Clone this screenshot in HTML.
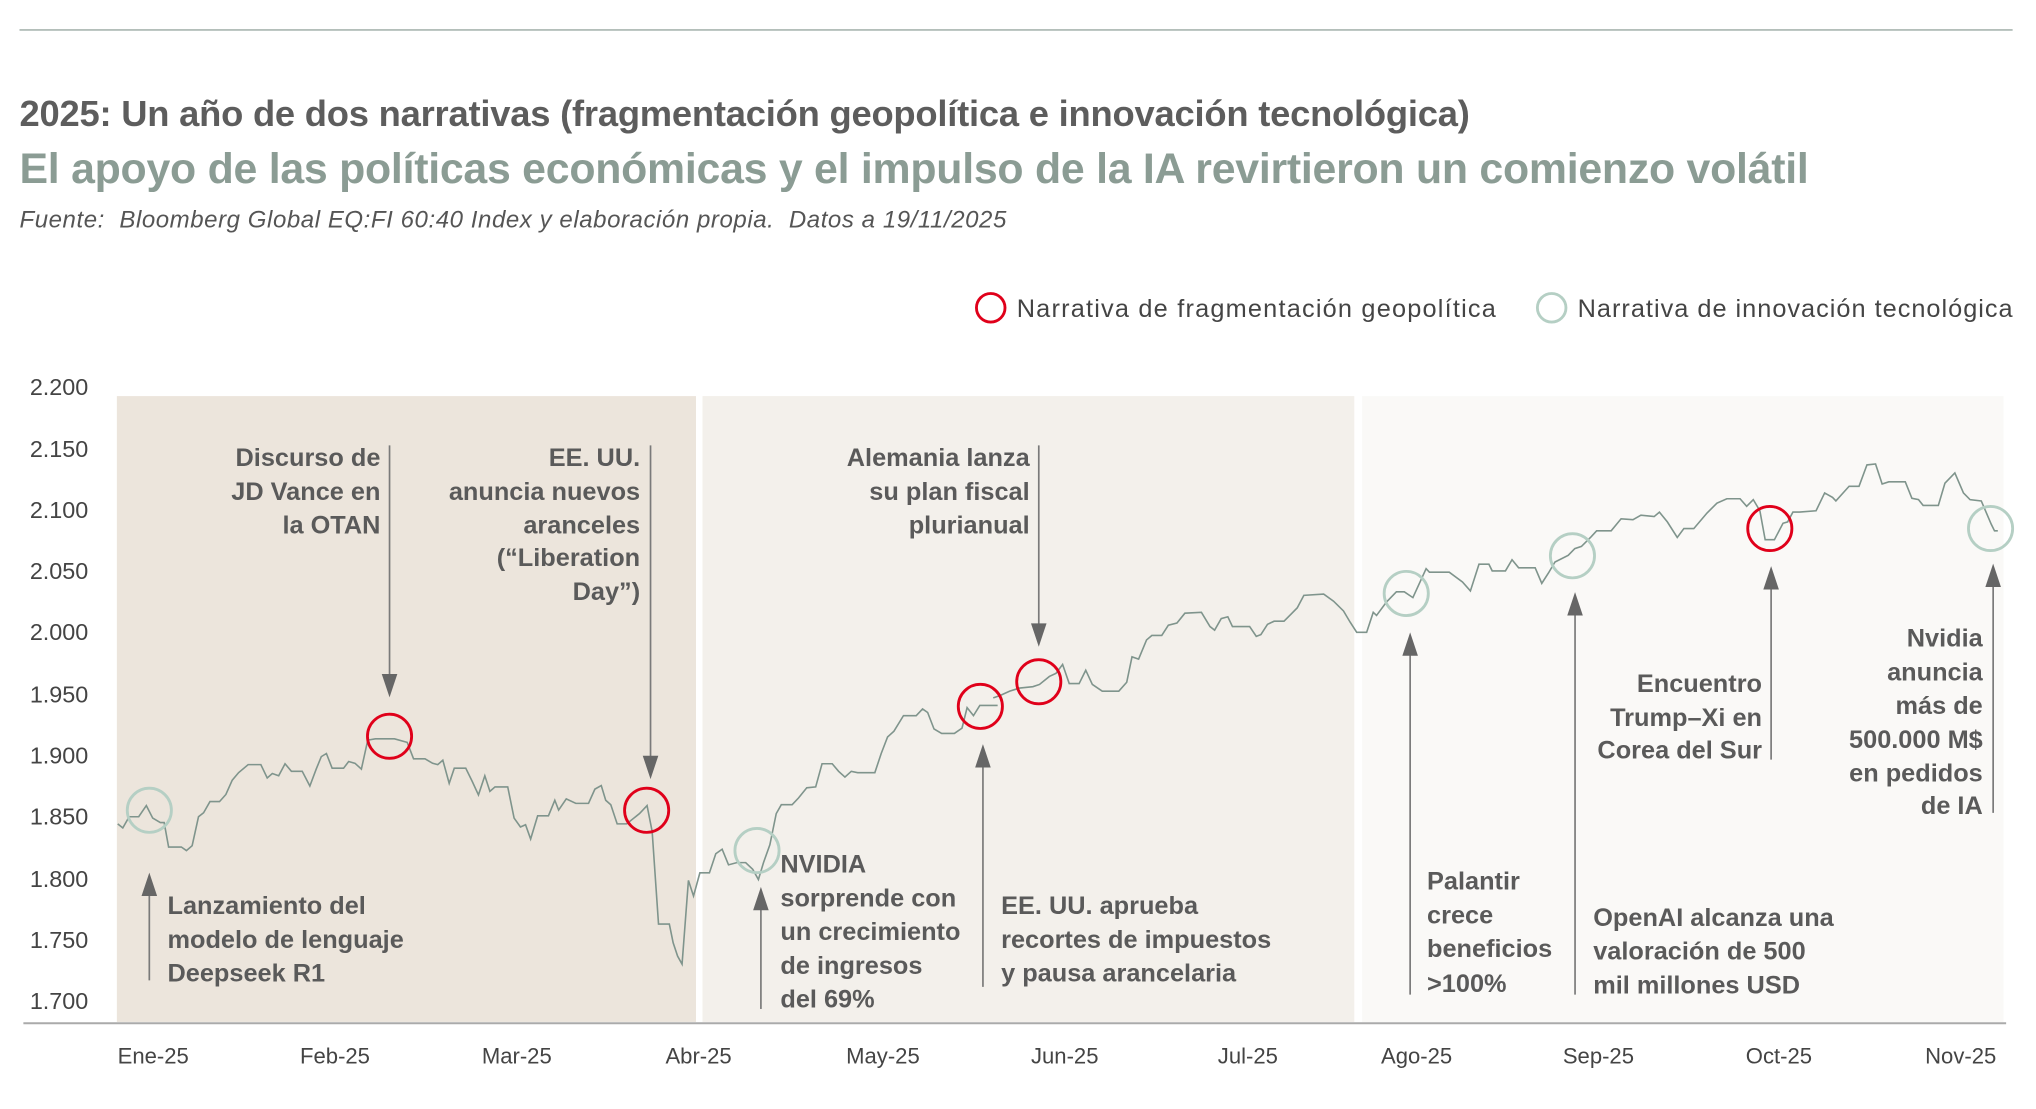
<!DOCTYPE html>
<html><head><meta charset="utf-8"><style>
html,body{margin:0;padding:0;background:#fff;}
svg{display:block;}
text{font-family:"Liberation Sans",sans-serif;}
.a{font-size:19.5px;font-weight:bold;fill:#5a5a5a;}
.y{font-size:18px;fill:#444;text-anchor:end;}
.x{font-size:17px;fill:#444;text-anchor:middle;}
.ar{stroke:#7a7a7a;stroke-width:1.3;fill:none;}
.ah{fill:#666;}
</style></head><body>
<svg width="2036" height="1109" viewBox="0 0 1568 854" xmlns="http://www.w3.org/2000/svg">
<line x1="15" y1="23" x2="1550" y2="23" stroke="#a9b6b1" stroke-width="1.2"/>
<text x="15" y="97" style="font-size:28px;font-weight:bold;fill:#5d5d5d" textLength="1117">2025: Un año de dos narrativas (fragmentación geopolítica e innovación tecnológica)</text>
<text x="15" y="141" style="font-size:33px;font-weight:bold;fill:#8b9c94" textLength="1378">El apoyo de las políticas económicas y el impulso de la IA revirtieron un comienzo volátil</text>
<text x="15" y="175" style="font-size:18.5px;font-style:italic;fill:#555;white-space:pre" xml:space="preserve" textLength="760">Fuente:  Bloomberg Global EQ:FI 60:40 Index y elaboración propia.  Datos a 19/11/2025</text>

<circle cx="763" cy="237" r="11" fill="none" stroke="#e0001a" stroke-width="2.2"/>
<text x="783" y="244" style="font-size:19.5px;fill:#444" textLength="369">Narrativa de fragmentación geopolítica</text>
<circle cx="1195" cy="237" r="11" fill="none" stroke="#b5cfc4" stroke-width="2.2"/>
<text x="1215" y="244" style="font-size:19.5px;fill:#444" textLength="335">Narrativa de innovación tecnológica</text>

<rect x="90" y="305" width="446" height="482" fill="#ece5dc"/>
<rect x="541" y="305" width="502" height="482" fill="#f3f0eb"/>
<rect x="1049" y="305" width="494" height="482" fill="#faf9f7"/>
<line x1="18" y1="788" x2="1545" y2="788" stroke="#aaa" stroke-width="1.5"/>

<g>
<text class="y" x="68" y="304">2.200</text>
<text class="y" x="68" y="352">2.150</text>
<text class="y" x="68" y="399">2.100</text>
<text class="y" x="68" y="446">2.050</text>
<text class="y" x="68" y="493">2.000</text>
<text class="y" x="68" y="541">1.950</text>
<text class="y" x="68" y="588">1.900</text>
<text class="y" x="68" y="635">1.850</text>
<text class="y" x="68" y="683">1.800</text>
<text class="y" x="68" y="730">1.750</text>
<text class="y" x="68" y="777">1.700</text>
</g>
<g>
<text class="x" x="118" y="819">Ene-25</text>
<text class="x" x="258" y="819">Feb-25</text>
<text class="x" x="398" y="819">Mar-25</text>
<text class="x" x="538" y="819">Abr-25</text>
<text class="x" x="680" y="819">May-25</text>
<text class="x" x="820" y="819">Jun-25</text>
<text class="x" x="961" y="819">Jul-25</text>
<text class="x" x="1091" y="819">Ago-25</text>
<text class="x" x="1231" y="819">Sep-25</text>
<text class="x" x="1370" y="819">Oct-25</text>
<text class="x" x="1510" y="819">Nov-25</text>
</g>

<g transform="translate(0,276.7) scale(0.49,0.343)">
<polyline fill="none" stroke="#7f948c" stroke-width="1.6" vector-effect="non-scaling-stroke" points="185,1043 193,1052 203,1027 218,1027 230,1002 240,1030 252,1040 258,1040 265,1095 285,1095 293,1103 302,1092 312,1027 320,1018 330,993 345,993 355,977 365,945 375,928 390,910 410,910 420,940 428,930 438,935 448,908 458,925 475,925 487,958 497,920 505,892 513,885 522,918 540,918 548,903 558,907 568,920 578,855 590,852 620,852 640,860 650,897 668,897 680,907 688,910 696,900 706,952 714,918 732,918 742,947 752,978 762,935 770,970 778,960 798,960 808,1030 818,1050 826,1045 834,1077 845,1025 862,1025 872,990 878,1012 890,987 905,997 925,997 935,965 945,957 952,990 960,1000 970,1043 985,1043 1005,1020 1017,1002 1025,1060 1035,1268 1052,1268 1058,1310 1065,1340 1072,1358 1082,1170 1090,1205 1100,1153 1115,1153 1125,1110 1135,1100 1145,1135 1158,1130 1172,1130 1183,1145 1192,1168 1200,1130 1210,1090 1220,1020 1228,1000 1245,1000 1255,985 1268,962 1282,960 1292,908 1308,908 1318,925 1328,938 1338,925 1348,928 1375,928 1385,885 1395,848 1405,835 1420,800 1440,800 1450,785 1458,793 1468,830 1480,840 1500,840 1512,828 1520,782 1530,800 1540,777 1568,777"/>
</g>
<g transform="translate(770,276.7) scale(0.509,0.343)">
<polyline fill="none" stroke="#7f948c" stroke-width="1.6" vector-effect="non-scaling-stroke" points="-10,760 0,755 15,745 30,738 50,735 60,730 75,712 85,705 95,685 105,728 120,728 130,698 140,730 155,745 180,745 192,725 200,668 210,673 222,630 230,620 245,620 255,597 268,592 280,570 305,568 318,600 325,608 335,582 345,578 352,600 378,600 388,622 395,618 405,595 415,588 430,588 440,573 450,558 460,530 490,527 505,543 520,565 530,590 540,613 555,613 565,568 570,575 585,545 600,522 612,522 625,535 645,470 650,478 680,478 700,500 712,520 725,460 740,460 745,475 765,475 775,450 785,468 810,468 820,503 830,480 840,455 860,440 870,425 880,420 895,398 903,385 925,385 940,358 958,360 970,350 990,353 998,343 1010,365 1025,400 1035,380 1050,380 1070,345 1085,323 1100,313 1120,313 1130,330 1140,315 1150,340 1158,405 1172,405 1185,368 1192,365 1200,343 1210,343 1235,340 1248,300 1260,310 1265,318 1285,285 1300,285 1312,237 1325,235 1335,280 1345,275 1370,275 1380,312 1390,315 1397,328 1420,328 1430,278 1445,255 1458,300 1468,315 1485,318 1500,370 1505,385 1510,385"/>
</g>

<g fill="none" stroke-width="2.2">
<circle cx="115" cy="624" r="17" stroke="#b5cfc4"/>
<circle cx="300" cy="567" r="17" stroke="#e0001a"/>
<circle cx="498" cy="624" r="17" stroke="#e0001a"/>
<circle cx="583" cy="655" r="17" stroke="#b5cfc4"/>
<circle cx="755" cy="544" r="17" stroke="#e0001a"/>
<circle cx="800" cy="525" r="17" stroke="#e0001a"/>
<circle cx="1083" cy="457" r="17" stroke="#b5cfc4"/>
<circle cx="1211" cy="428" r="17" stroke="#b5cfc4"/>
<circle cx="1363" cy="407" r="17" stroke="#e0001a"/>
<circle cx="1533" cy="407" r="17" stroke="#b5cfc4"/>
</g>

<g>
<line class="ar" x1="115" y1="755" x2="115" y2="685"/><polygon class="ah" points="115,672 109,690 121,690"/>
<line class="ar" x1="586" y1="777" x2="586" y2="696"/><polygon class="ah" points="586,683 580,701 592,701"/>
<line class="ar" x1="757" y1="760" x2="757" y2="586"/><polygon class="ah" points="757,573 751,591 763,591"/>
<line class="ar" x1="1086" y1="766" x2="1086" y2="500"/><polygon class="ah" points="1086,487 1080,505 1092,505"/>
<line class="ar" x1="1213" y1="766" x2="1213" y2="469"/><polygon class="ah" points="1213,456 1207,474 1219,474"/>
<line class="ar" x1="1364" y1="585" x2="1364" y2="449"/><polygon class="ah" points="1364,436 1358,454 1370,454"/>
<line class="ar" x1="1535" y1="626" x2="1535" y2="447"/><polygon class="ah" points="1535,434 1529,452 1541,452"/>
<line class="ar" x1="300" y1="343" x2="300" y2="524"/><polygon class="ah" points="300,537 294,519 306,519"/>
<line class="ar" x1="501" y1="343" x2="501" y2="587"/><polygon class="ah" points="501,600 495,582 507,582"/>
<line class="ar" x1="800" y1="343" x2="800" y2="485"/><polygon class="ah" points="800,498 794,480 806,480"/>
</g>

<g class="a">
<text x="129" y="704">Lanzamiento del</text>
<text x="129" y="730">modelo de lenguaje</text>
<text x="129" y="756">Deepseek R1</text>

<text x="293" y="359" text-anchor="end">Discurso de</text>
<text x="293" y="385" text-anchor="end">JD Vance en</text>
<text x="293" y="411" text-anchor="end">la OTAN</text>

<text x="493" y="359" text-anchor="end">EE. UU.</text>
<text x="493" y="385" text-anchor="end">anuncia nuevos</text>
<text x="493" y="411" text-anchor="end">aranceles</text>
<text x="493" y="436" text-anchor="end">(“Liberation</text>
<text x="493" y="462" text-anchor="end">Day”)</text>

<text x="601" y="672">NVIDIA</text>
<text x="601" y="698">sorprende con</text>
<text x="601" y="724">un crecimiento</text>
<text x="601" y="750">de ingresos</text>
<text x="601" y="776">del 69%</text>

<text x="793" y="359" text-anchor="end">Alemania lanza</text>
<text x="793" y="385" text-anchor="end">su plan fiscal</text>
<text x="793" y="411" text-anchor="end">plurianual</text>

<text x="771" y="704">EE. UU. aprueba</text>
<text x="771" y="730">recortes de impuestos</text>
<text x="771" y="756">y pausa arancelaria</text>

<text x="1099" y="685">Palantir</text>
<text x="1099" y="711">crece</text>
<text x="1099" y="737">beneficios</text>
<text x="1099" y="764">&gt;100%</text>

<text x="1227" y="713">OpenAI alcanza una</text>
<text x="1227" y="739">valoración de 500</text>
<text x="1227" y="765">mil millones USD</text>

<text x="1357" y="533" text-anchor="end">Encuentro</text>
<text x="1357" y="559" text-anchor="end">Trump–Xi en</text>
<text x="1357" y="584" text-anchor="end">Corea del Sur</text>

<text x="1527" y="498" text-anchor="end">Nvidia</text>
<text x="1527" y="524" text-anchor="end">anuncia</text>
<text x="1527" y="550" text-anchor="end">más de</text>
<text x="1527" y="576" text-anchor="end">500.000 M$</text>
<text x="1527" y="602" text-anchor="end">en pedidos</text>
<text x="1527" y="627" text-anchor="end">de IA</text>
</g>
</svg>
</body></html>
